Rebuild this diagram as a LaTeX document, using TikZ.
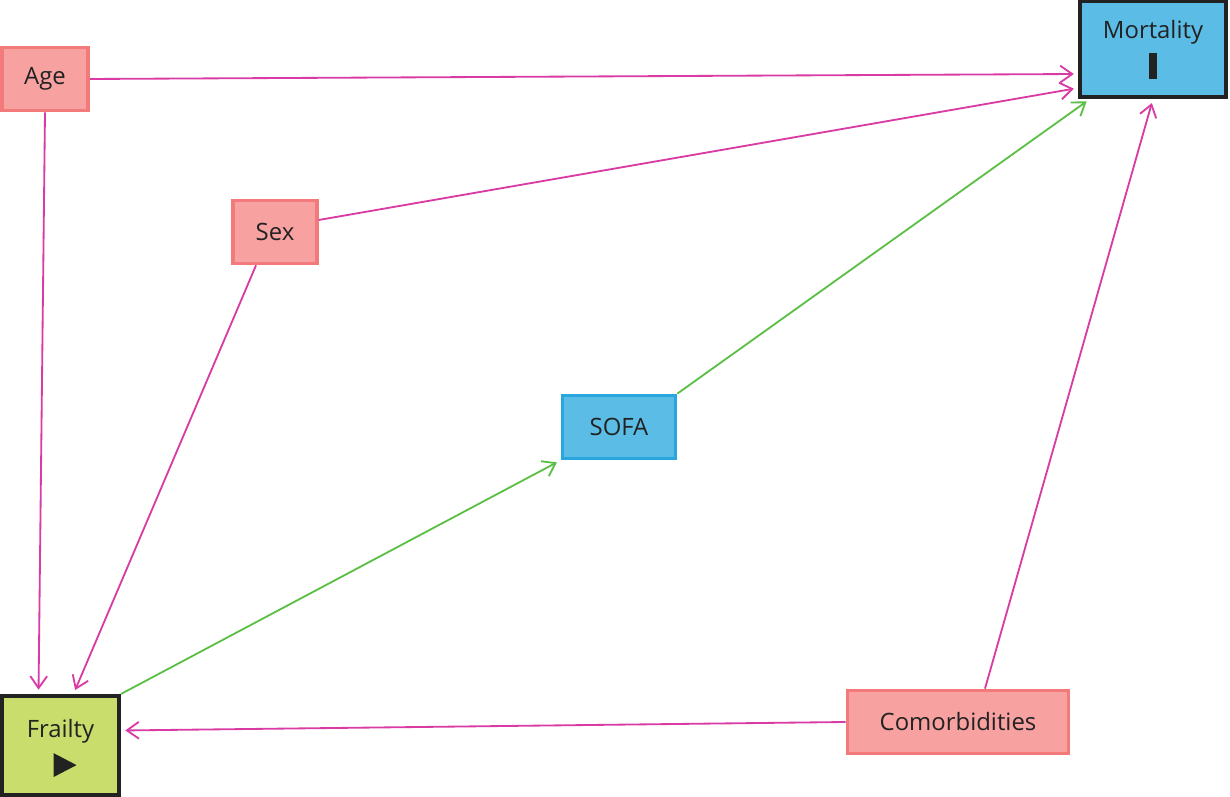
\documentclass[tikz,border=0pt]{standalone}
\usepackage{fontspec}
\setmainfont{Open Sans}
\usetikzlibrary{arrows.meta}
\definecolor{conffill}{HTML}{F7A1A1}
\definecolor{confline}{HTML}{F27A7A}
\definecolor{bluefill}{HTML}{5BBDE6}
\definecolor{blueline}{HTML}{29A6DE}
\definecolor{frailfill}{HTML}{C8DD6B}
\definecolor{riskline}{HTML}{D93AA3}
\definecolor{clinline}{HTML}{5CBF45}
\definecolor{textgray}{HTML}{222222}
\begin{document}
\begin{tikzpicture}[thick, font=\fontsize{17}{20}\selectfont,
  conf/.style={draw=confline, fill=conffill, line width=2.5pt, minimum height=1.58cm, text=textgray},
  outc/.style={draw=textgray, fill=bluefill, line width=2.8pt, text=textgray, align=center},
  risk/.style={draw=riskline, line width=1.3pt, -{Straight Barb[length=3mm,width=4.2mm]}, shorten >=3pt},
  clin/.style={risk, draw=clinline}]
\useasboundingbox (0,0) rectangle (30.75,19.925);
% covariates
\node[conf, minimum width=2.16cm] (Age) at (1.125,17.95) {Age};
\node[conf, minimum width=2.1cm] (Sex) at (6.875,14.125) {Sex};
\node[conf, minimum width=5.53cm] (Com) at (23.95,1.875) {Comorbidities};
% exposure, mediator and outcome
\node[outc, draw=textgray, fill=frailfill, minimum width=2.93cm, minimum height=2.48cm] (Frail) at (1.5125,1.2875) {Frailty\\[2pt]\rule{0pt}{0.6cm}};
\fill[textgray] ([shift={(-0.175,-0.19)}]Frail.center) -- ++(0,-0.6) -- ++(0.575,0.3) -- cycle;
\node[outc, draw=blueline, line width=2.5pt, minimum width=2.83cm, minimum height=1.58cm] (Sofa) at (15.475,9.25) {SOFA};
\node[outc, minimum width=3.65cm, minimum height=2.4cm] (Mort) at (28.825,18.7) {\rule{0pt}{0.5cm}Mortality\\[5pt]\rule{0.2cm}{0.65cm}};
% edges
\draw[risk] (Age.east) -- ([yshift=-0.625cm]Mort.west);
\draw[risk] ([yshift=0.3cm]Sex.east) -- ([yshift=-0.975cm]Mort.west);
\draw[clin] (Sofa.north east) -- ([xshift=0.3cm]Mort.south west);
\draw[risk] ([xshift=0.675cm]Com.north) -- (Mort.south);
\draw[risk] (Age.south) -- ([xshift=-0.55cm]Frail.north);
\draw[risk] ([xshift=-0.475cm]Sex.south) -- ([xshift=0.325cm]Frail.north);
\draw[clin] (Frail.north east) -- (Sofa.south west);
\draw[risk] (Com.west) -- ([yshift=0.375cm]Frail.east);
\end{tikzpicture}
\end{document}
